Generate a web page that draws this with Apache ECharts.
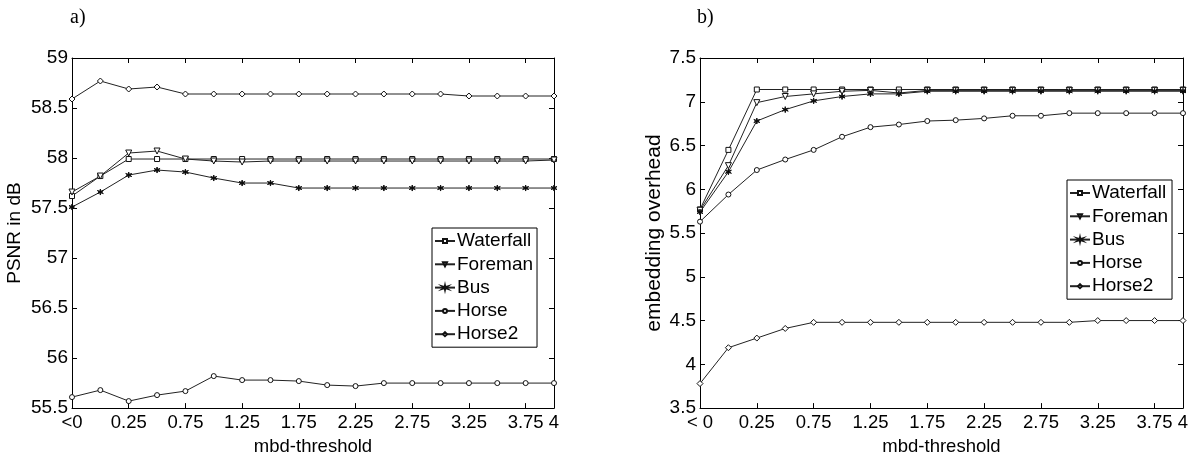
<!DOCTYPE html>
<html>
<head>
<meta charset="utf-8">
<script src="https://cdn.jsdelivr.net/npm/echarts@6/dist/echarts.min.js"></script>
<style>
  html, body { margin: 0; padding: 0; background: #fff; }
  #container { width: 1192px; height: 461px; }
</style>
</head>
<body>
<div id="container"></div>
<script>
// mbd-threshold categories (index 1 is the unlabelled point between <0 and 0.25)
var categoriesA = ['<0', '0', '0.25', '0.5', '0.75', '1', '1.25', '1.5', '1.75', '2', '2.25', '2.5', '2.75', '3', '3.25', '3.5', '3.75', '4'];
var categoriesB = ['< 0', '0', '0.25', '0.5', '0.75', '1', '1.25', '1.5', '1.75', '2', '2.25', '2.5', '2.75', '3', '3.25', '3.5', '3.75', '4'];
var seriesNames = ['Waterfall', 'Foreman', 'Bus', 'Horse', 'Horse2'];

// a) PSNR in dB
var psnrWaterfall = [57.62, 57.82, 57.99, 57.99, 57.99, 57.99, 57.99, 57.99, 57.99, 57.99, 57.99, 57.99, 57.99, 57.99, 57.99, 57.99, 57.99, 57.99];
var psnrForeman   = [57.66, 57.82, 58.05, 58.07, 57.99, 57.97, 57.96, 57.97, 57.97, 57.97, 57.97, 57.97, 57.97, 57.97, 57.97, 57.97, 57.97, 57.98];
var psnrBus       = [57.51, 57.66, 57.83, 57.88, 57.86, 57.80, 57.75, 57.75, 57.70, 57.70, 57.70, 57.70, 57.70, 57.70, 57.70, 57.70, 57.70, 57.70];
var psnrHorse     = [55.61, 55.68, 55.57, 55.63, 55.67, 55.82, 55.78, 55.78, 55.77, 55.73, 55.72, 55.75, 55.75, 55.75, 55.75, 55.75, 55.75, 55.75];
var psnrHorse2    = [58.59, 58.77, 58.69, 58.71, 58.64, 58.64, 58.64, 58.64, 58.64, 58.64, 58.64, 58.64, 58.64, 58.64, 58.62, 58.62, 58.62, 58.62];

// b) embedding overhead
var ovWaterfall = [5.77, 6.45, 7.14, 7.14, 7.14, 7.14, 7.14, 7.14, 7.14, 7.14, 7.14, 7.14, 7.14, 7.14, 7.14, 7.14, 7.14, 7.14];
var ovForeman   = [5.76, 6.27, 6.99, 7.06, 7.09, 7.12, 7.13, 7.10, 7.13, 7.13, 7.13, 7.13, 7.13, 7.13, 7.13, 7.13, 7.13, 7.13];
var ovBus       = [5.74, 6.20, 6.78, 6.91, 7.01, 7.06, 7.09, 7.09, 7.12, 7.12, 7.12, 7.12, 7.12, 7.12, 7.12, 7.12, 7.12, 7.12];
var ovHorse     = [5.63, 5.94, 6.22, 6.34, 6.45, 6.60, 6.71, 6.74, 6.78, 6.79, 6.81, 6.84, 6.84, 6.87, 6.87, 6.87, 6.87, 6.87];
var ovHorse2    = [3.78, 4.19, 4.30, 4.41, 4.48, 4.48, 4.48, 4.48, 4.48, 4.48, 4.48, 4.48, 4.48, 4.48, 4.50, 4.50, 4.50, 4.50];

var dom = document.getElementById('container');
var myChart = echarts.init(dom);

var FONT = 'Liberation Sans';
var starPath = 'path://M50,0 L58,38 L97,25 L66,50 L97,75 L58,62 L50,100 L42,62 L3,75 L34,50 L3,25 L42,38 Z';
var markers = [
    {symbol: 'rect', size: 5, fill: '#fff', rotate: 0},
    {symbol: 'triangle', size: 6, fill: '#fff', rotate: 180},
    {symbol: starPath, size: 6, fill: '#000', rotate: 0},
    {symbol: 'circle', size: 5, fill: '#fff', rotate: 0},
    {symbol: 'diamond', size: 6, fill: '#fff', rotate: 0}
];

function showIdx(i) {
    return i % 2 === 0 || i === 17;
}

function makeSeries(name, k, data, axisIdx) {
    var m = markers[k];
    return {
        name: name,
        type: 'line',
        xAxisIndex: axisIdx,
        yAxisIndex: axisIdx,
        data: data,
        symbol: m.symbol,
        symbolSize: m.size,
        symbolRotate: m.rotate,
        showAllSymbol: true,
        animation: false,
        lineStyle: {color: '#222', width: 1},
        itemStyle: {color: m.fill, borderColor: '#111', borderWidth: 1}
    };
}

function bottomAxis(grid, cats) {
    return {
        type: 'category',
        gridIndex: grid,
        data: cats,
        boundaryGap: false,
        position: 'bottom',
        name: 'mbd-threshold',
        nameLocation: 'middle',
        nameGap: 21,
        nameTextStyle: {fontFamily: FONT, fontSize: 18.5, color: '#000'},
        axisLine: {lineStyle: {color: '#000', width: 1}},
        axisTick: {inside: true, length: 5, interval: showIdx, lineStyle: {color: '#000'}},
        axisLabel: {interval: showIdx, margin: 5, fontFamily: FONT, fontSize: 18.5, color: '#000'},
        splitLine: {show: false}
    };
}

function topAxis(grid, cats) {
    return {
        type: 'category',
        gridIndex: grid,
        data: cats,
        boundaryGap: false,
        position: 'top',
        axisLine: {lineStyle: {color: '#000', width: 1}},
        axisTick: {inside: true, length: 5, interval: showIdx, lineStyle: {color: '#000'}},
        axisLabel: {show: false},
        splitLine: {show: false}
    };
}

function leftAxis(grid, min, max, name, gap, nameSize) {
    return {
        type: 'value',
        gridIndex: grid,
        min: min,
        max: max,
        interval: 0.5,
        position: 'left',
        name: name,
        nameLocation: 'middle',
        nameGap: gap,
        nameTextStyle: {fontFamily: FONT, fontSize: nameSize, color: '#000'},
        axisLine: {show: true, lineStyle: {color: '#000', width: 1}},
        axisTick: {show: true, inside: true, length: 5, lineStyle: {color: '#000'}},
        axisLabel: {margin: 4, fontFamily: FONT, fontSize: 19, color: '#000'},
        splitLine: {show: false}
    };
}

function rightAxis(grid, min, max) {
    return {
        type: 'value',
        gridIndex: grid,
        min: min,
        max: max,
        interval: 0.5,
        position: 'right',
        axisLine: {show: true, lineStyle: {color: '#000', width: 1}},
        axisTick: {show: true, inside: true, length: 5, lineStyle: {color: '#000'}},
        axisLabel: {show: false},
        splitLine: {show: false}
    };
}

function legendAt(left, top) {
    return {
        orient: 'vertical',
        left: left,
        top: top,
        data: seriesNames,
        itemWidth: 20,
        itemHeight: 5,
        itemGap: 4.3,
        padding: [3.5, 4, 3.5, 2],
        borderColor: '#000',
        borderWidth: 1,
        backgroundColor: '#fff',
        selectedMode: false,
        textStyle: {fontFamily: FONT, fontSize: 19, lineHeight: 19, color: '#000', padding: [0, 0, 0, -3]}
    };
}

var psnrData = [psnrWaterfall, psnrForeman, psnrBus, psnrHorse, psnrHorse2];
var ovData = [ovWaterfall, ovForeman, ovBus, ovHorse, ovHorse2];
var series = [];
seriesNames.forEach(function (n, k) {
    series.push(makeSeries(n, k, psnrData[k], 0));
});
seriesNames.forEach(function (n, k) {
    series.push(makeSeries(n, k, ovData[k], 1));
});

option = {
    backgroundColor: '#fff',
    animation: false,
    title: [
        {text: 'a)', left: 70, top: 8, padding: 0, textStyle: {fontFamily: 'Liberation Serif', fontSize: 20, fontWeight: 'normal', color: '#000'}},
        {text: 'b)', left: 697, top: 8, padding: 0, textStyle: {fontFamily: 'Liberation Serif', fontSize: 20, fontWeight: 'normal', color: '#000'}}
    ],
    grid: [
        {left: 72, right: 638, top: 58, bottom: 40},
        {left: 700, right: 9, top: 58, bottom: 40}
    ],
    legend: [legendAt(432, 228), legendAt(1067, 180)],
    xAxis: [bottomAxis(0, categoriesA), bottomAxis(1, categoriesB), topAxis(0, categoriesA), topAxis(1, categoriesB)],
    yAxis: [leftAxis(0, 55.5, 59, 'PSNR in dB', 48, 19), leftAxis(1, 3.5, 7.5, 'embedding overhead', 35, 21), rightAxis(0, 55.5, 59), rightAxis(1, 3.5, 7.5)],
    series: series
};

if (option && typeof option === 'object') {
    myChart.setOption(option, true);
}
</script>
</body>
</html>
